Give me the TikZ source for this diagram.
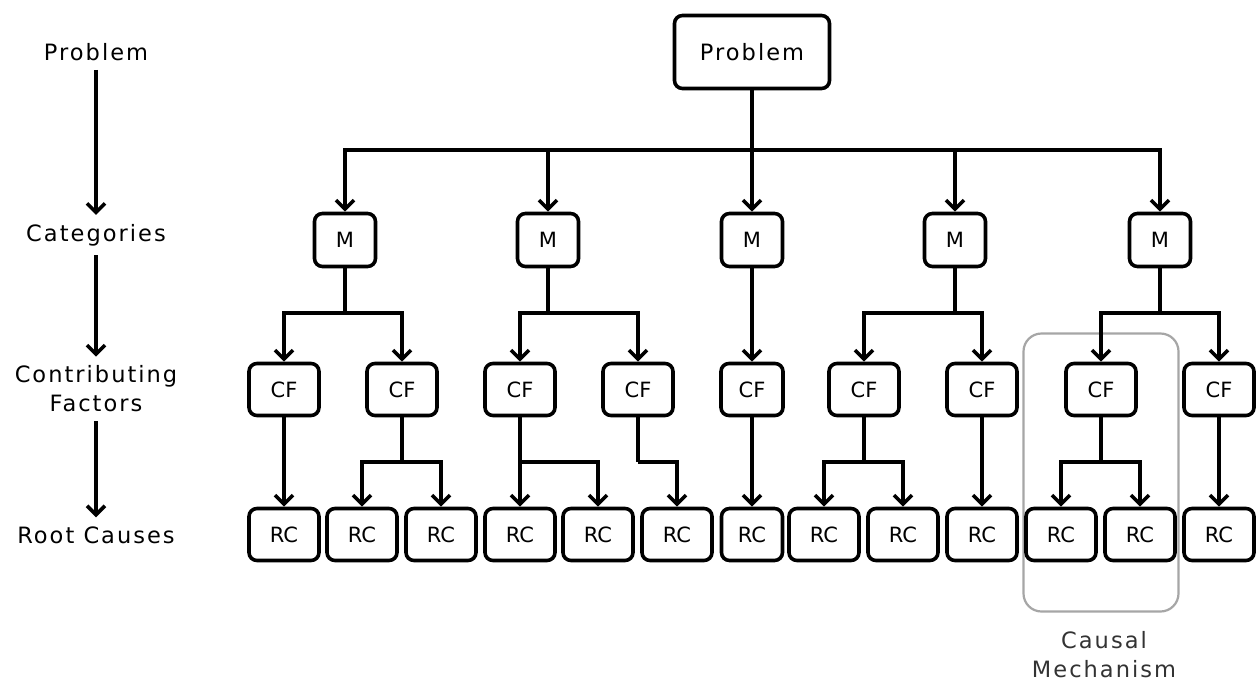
\documentclass[tikz,border=0pt]{standalone}
\usepackage{fontspec}
\setmainfont{DejaVu Sans}
\newfontfamily\labfont{DejaVu Sans}[LetterSpace=9]
\usetikzlibrary{arrows.meta}
\begin{document}
\begin{tikzpicture}[x=1pt,y=-1pt,
  font=\fontsize{21}{29}\selectfont,
  box/.style={draw, line width=3.6pt, rounded corners=8pt, minimum height=52pt, inner sep=0pt},
  rcbox/.style={box, minimum width=70pt},
  cfbox/.style={box, minimum width=70pt},
  mbox/.style={box, minimum width=61pt, minimum height=53pt},
  lab/.style={align=center, inner sep=0pt, font=\labfont\fontsize{22.5}{29}\selectfont},
  ln/.style={line width=3.6pt},
  arr/.style={line width=3.6pt, -{Straight Barb[length=9pt,width=18pt]}},
  group/.style={draw=black!35, line width=2.2pt, rounded corners=18pt, minimum width=155pt, minimum height=278pt}]
\useasboundingbox (0,0) rectangle (1256,681);
\fill[white] (0,0) rectangle (1256,681);

% causal mechanism group
\node[group] (G) at (1101,472.5) {};
\node[lab, text=black!80] (GL) at (1104,655) {Causal\\Mechanism};

% left legend
\node[lab] (L1) at (96,52) {Problem};
\node[lab] (L2) at (96,235) {Categories};
\node[lab] (L3) at (96,389) {Contributing\\Factors};
\node[lab] (L4) at (96,535) {Root Causes};
\draw[arr, shorten <=9pt, shorten >=9pt] (L1) -- (L2);
\draw[arr, shorten <=9pt, shorten >=9pt] (L2) -- (L3);
\draw[arr, shorten <=9pt, shorten >=9pt] (L3) -- (L4);

% top
\node[box, minimum width=155pt, minimum height=73pt, font=\labfont\fontsize{22.5}{29}\selectfont] (P) at (752,52) {Problem};

% categories
\node[mbox] (M1) at (345,240) {M};
\node[mbox] (M2) at (548,240) {M};
\node[mbox] (M3) at (752,240) {M};
\node[mbox] (M4) at (955,240) {M};
\node[mbox] (M5) at (1160,240) {M};

% contributing factors
\node[cfbox] (C1) at (284,389.5) {CF};
\node[cfbox] (C2) at (402,389.5) {CF};
\node[cfbox] (C3) at (520,389.5) {CF};
\node[cfbox] (C4) at (638,389.5) {CF};
\node[cfbox, minimum width=62pt] (C5) at (752,389.5) {CF};
\node[cfbox] (C6) at (864,389.5) {CF};
\node[cfbox] (C7) at (982,389.5) {CF};
\node[cfbox] (C8) at (1101,389.5) {CF};
\node[cfbox] (C9) at (1219,389.5) {CF};

% root causes
\node[rcbox] (R1) at (284,534.5) {RC};
\node[rcbox] (R2) at (362,534.5) {RC};
\node[rcbox] (R3) at (441,534.5) {RC};
\node[rcbox] (R4) at (520,534.5) {RC};
\node[rcbox] (R5) at (598,534.5) {RC};
\node[rcbox] (R6) at (677,534.5) {RC};
\node[rcbox, minimum width=61pt] (R7) at (752,534.5) {RC};
\node[rcbox] (R8) at (824,534.5) {RC};
\node[rcbox] (R9) at (903,534.5) {RC};
\node[rcbox] (R10) at (982,534.5) {RC};
\node[rcbox] (R11) at (1061,534.5) {RC};
\node[rcbox] (R12) at (1140,534.5) {RC};
\node[rcbox] (R13) at (1219,534.5) {RC};

% junction points
\coordinate (b0) at (752,150);
\coordinate (m1) at (345,313);
\coordinate (m2) at (548,313);
\coordinate (m4) at (955,313);
\coordinate (m5) at (1160,313);
\coordinate (c2) at (402,462);
\coordinate (c3) at (520,462);
\coordinate (c4) at (638,462);
\coordinate (c6) at (864,462);
\coordinate (c8) at (1101,462);

% problem -> categories
\draw[ln] (P) -- (b0);
\foreach \m in {M1,M2,M3,M4,M5} \draw[arr] (b0) -| (\m);

% categories -> factors
\draw[ln] (M1) -- (m1);
\draw[arr] (m1) -| (C1);
\draw[arr] (m1) -| (C2);
\draw[ln] (M2) -- (m2);
\draw[arr] (m2) -| (C3);
\draw[arr] (m2) -| (C4);
\draw[arr] (M3) -- (C5);
\draw[ln] (M4) -- (m4);
\draw[arr] (m4) -| (C6);
\draw[arr] (m4) -| (C7);
\draw[ln] (M5) -- (m5);
\draw[arr] (m5) -| (C8);
\draw[arr] (m5) -| (C9);

% factors -> root causes
\draw[arr] (C1) -- (R1);
\draw[ln] (C2) -- (c2);
\draw[arr] (c2) -| (R2);
\draw[arr] (c2) -| (R3);
\draw[ln] (C3) -- (c3);
\draw[arr] (c3) -| (R4);
\draw[arr] (c3) -| (R5);
\draw[ln] (C4) -- (c4);
\draw[arr] (c4) -| (R6);
\draw[arr] (C5) -- (R7);
\draw[ln] (C6) -- (c6);
\draw[arr] (c6) -| (R8);
\draw[arr] (c6) -| (R9);
\draw[arr] (C7) -- (R10);
\draw[ln] (C8) -- (c8);
\draw[arr] (c8) -| (R11);
\draw[arr] (c8) -| (R12);
\draw[arr] (C9) -- (R13);
\end{tikzpicture}
\end{document}
